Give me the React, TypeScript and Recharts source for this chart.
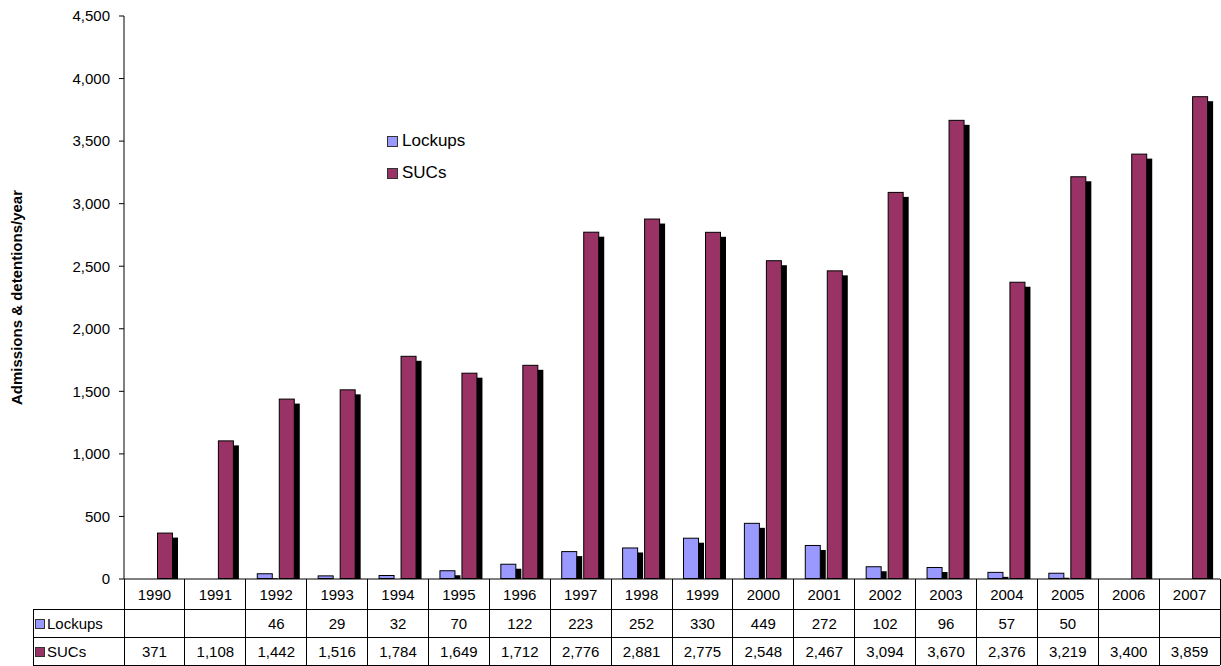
import React from 'react';
import { BarChart, Bar, XAxis, YAxis, Legend, Customized } from 'recharts';

const years = ['1990', '1991', '1992', '1993', '1994', '1995', '1996', '1997', '1998', '1999', '2000', '2001', '2002', '2003', '2004', '2005', '2006', '2007'];
const lockups: (number | null)[] = [null, null, 46, 29, 32, 70, 122, 223, 252, 330, 449, 272, 102, 96, 57, 50, null, null];
const sucs: number[] = [371, 1108, 1442, 1516, 1784, 1649, 1712, 2776, 2881, 2775, 2548, 2467, 3094, 3670, 2376, 3219, 3400, 3859];
const yTicks = [0, 500, 1000, 1500, 2000, 2500, 3000, 3500, 4000, 4500];
const seriesNames = ['Lockups', 'SUCs'];
const yTitle = 'Admissions & detentions/year';

const data = years.map((y, i) => ({ year: y, Lockups: lockups[i], SUCs: sucs[i] }));

const W = 1221;
const H = 666;
const LEFT = 124;
const RIGHT_M = 1;
const TOP = 16;
const XAXIS_H = 87;
const COL_W = (W - LEFT - RIGHT_M) / years.length;
const FONT = '"Liberation Sans", Arial, sans-serif';
const C_LOCK = '#9999FF';
const C_SUC = '#993366';

const fmt = (v: number | null) => (v == null ? '' : v.toLocaleString('en-US'));

const ShadowBar = (props: any) => {
  const { x, y, width, height, fill } = props;
  if (!height || height <= 0) return <g />;
  const sh = Math.max(0, height - 5);
  return (
    <g>
      {sh > 0 && <rect x={x + 5} y={y + 5} width={width} height={sh} fill="#000" />}
      <rect x={x + 0.5} y={y + 0.5} width={width - 1} height={Math.max(0, height - 1)} fill={fill} stroke="#000" strokeWidth={1} />
    </g>
  );
};

const TableTick = (props: any) => {
  const { x, y, payload } = props;
  const idx = years.indexOf(String(payload.value));
  const top = y;
  const r1 = top + 30;
  const r2 = top + 58;
  const r3 = top + 86;
  const l = x - COL_W / 2;
  const r = x + COL_W / 2;
  const line = { stroke: '#000', strokeWidth: 1, shapeRendering: 'crispEdges' as const };
  return (
    <g fontFamily={FONT} fontSize={15} fill="#000">
      <line x1={l} y1={top} x2={l} y2={r3} {...line} />
      <line x1={r} y1={top} x2={r} y2={r3} {...line} />
      <line x1={l} y1={r1} x2={r} y2={r1} {...line} />
      <line x1={l} y1={r2} x2={r} y2={r2} {...line} />
      <line x1={l} y1={r3} x2={r} y2={r3} {...line} />
      <text x={x} y={top + 21} textAnchor="middle">{payload.value}</text>
      <text x={x} y={r1 + 20} textAnchor="middle">{fmt(lockups[idx])}</text>
      <text x={x} y={r2 + 20} textAnchor="middle">{fmt(sucs[idx])}</text>
      {idx === 0 && (
        <g>
          <line x1={33} y1={r1} x2={l} y2={r1} {...line} />
          <line x1={33} y1={r2} x2={l} y2={r2} {...line} />
          <line x1={33} y1={r3} x2={l} y2={r3} {...line} />
          <line x1={33} y1={r1} x2={33} y2={r3} {...line} />
          <rect x={35.5} y={r1 + 10.5} width={9} height={9} fill={C_LOCK} stroke="#333" strokeWidth={1} />
          <text x={47} y={r1 + 20} textAnchor="start">{seriesNames[0]}</text>
          <rect x={35.5} y={r2 + 10.5} width={9} height={9} fill={C_SUC} stroke="#333" strokeWidth={1} />
          <text x={47} y={r2 + 20} textAnchor="start">{seriesNames[1]}</text>
        </g>
      )}
    </g>
  );
};

const LegendBox = () => (
  <div style={{ fontFamily: FONT, fontSize: 17, color: '#000', lineHeight: '20px' }}>
    {[C_LOCK, C_SUC].map((c, i) => (
      <div key={i} style={{ display: 'flex', alignItems: 'center', height: 20, marginBottom: i === 0 ? 12 : 0 }}>
        <span style={{ display: 'inline-block', width: 9, height: 9, background: c, border: '1px solid #333', marginRight: 4 }} />
        <span>{seriesNames[i]}</span>
      </div>
    ))}
  </div>
);

const YTitle = () => (
  <text
    x={22}
    y={(TOP + (H - XAXIS_H)) / 2}
    transform={`rotate(-90, 22, ${(TOP + (H - XAXIS_H)) / 2})`}
    textAnchor="middle"
    fontFamily={FONT}
    fontSize={15}
    fontWeight="bold"
    fill="#000"
  >
    {yTitle}
  </text>
);

export default function App() {
  return (
    <div style={{ position: 'absolute', left: 0, top: 0, width: W, height: H, background: '#fff' }}>
      <BarChart
        width={W}
        height={H}
        data={data}
        margin={{ top: TOP, right: RIGHT_M, left: 0, bottom: 0 }}
        barSize={16}
        barGap={6}
      >
        <XAxis
          dataKey="year"
          height={XAXIS_H}
          tickLine={false}
          tickSize={0}
          tickMargin={0}
          axisLine={{ stroke: '#000' }}
          tick={<TableTick />}
          interval={0}
        />
        <YAxis
          width={LEFT}
          domain={[0, 4500]}
          ticks={yTicks}
          interval={0}
          tickFormatter={(v: number) => v.toLocaleString('en-US')}
          axisLine={{ stroke: '#000' }}
          tickLine={{ stroke: '#000' }}
          tickSize={5}
          tickMargin={9}
          tick={{ fontFamily: FONT, fontSize: 15, fill: '#000' }}
        />
        <Legend
          layout="vertical"
          align="center"
          verticalAlign="middle"
          content={<LegendBox />}
          wrapperStyle={{ left: 387, top: 131, width: 'auto', height: 'auto' }}
        />
        <Bar dataKey="Lockups" fill={C_LOCK} shape={<ShadowBar />} isAnimationActive={false} />
        <Bar dataKey="SUCs" fill={C_SUC} shape={<ShadowBar />} isAnimationActive={false} />
        <Customized component={<YTitle />} />
      </BarChart>
    </div>
  );
}
